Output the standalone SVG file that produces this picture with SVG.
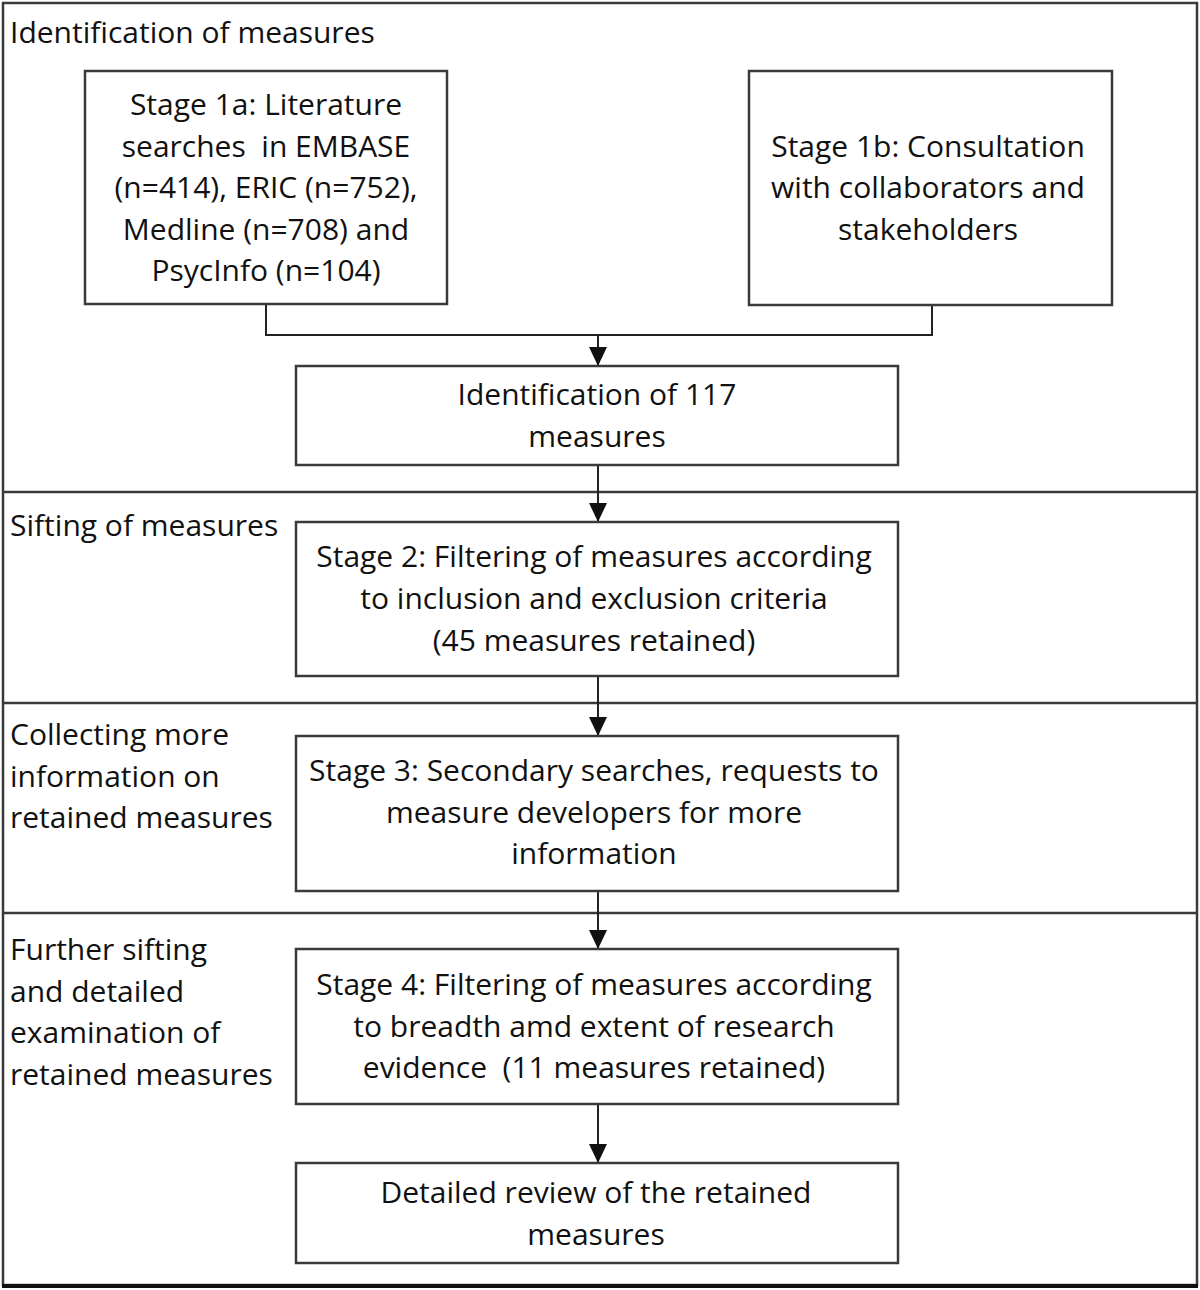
<svg xmlns="http://www.w3.org/2000/svg" width="1200" height="1290" viewBox="0 0 1200 1290">
<defs>
<style>
.box{fill:#fff;stroke:#3a3a3a;stroke-width:2.5}
.frame{fill:none;stroke:#3a3a3a;stroke-width:2.5}
.t{font-family:"Open Sans",Lato,sans-serif;font-size:30px;fill:#111;white-space:pre}
.c{text-anchor:middle}
.con{fill:none;stroke:#222;stroke-width:2}
</style>
<marker id="arrB" viewBox="0 0 19 18" refX="19" refY="9" markerWidth="19" markerHeight="18" markerUnits="userSpaceOnUse" orient="auto">
<path d="M0,0 L19,9 L0,18 z" fill="#111"/>
</marker>
</defs>
<rect width="1200" height="1290" fill="#fff"/>
<g id="frame">
<rect class="frame" x="3" y="3" width="1194" height="1282"/>
<line class="frame" x1="3" y1="492" x2="1197" y2="492"/>
<line class="frame" x1="3" y1="703" x2="1197" y2="703"/>
<line class="frame" x1="3" y1="913" x2="1197" y2="913"/>
<line x1="2" y1="1286" x2="1198" y2="1286" stroke="#111" stroke-width="4"/>
</g>
<g id="section-labels">
<text class="t" x="10" y="43">Identification of measures</text>
<text class="t" x="10" y="536">Sifting of measures</text>
<text class="t" x="10" y="745">Collecting more</text>
<text class="t" x="10" y="787">information on</text>
<text class="t" x="10" y="828">retained measures</text>
<text class="t" x="10" y="960">Further sifting</text>
<text class="t" x="10" y="1002">and detailed</text>
<text class="t" x="10" y="1043">examination of</text>
<text class="t" x="10" y="1085">retained measures</text>
</g>
<g id="connectors">
<polyline class="con" points="266,304 266,335 932,335 932,305"/>
<line class="con" x1="598" y1="335" x2="598" y2="366" marker-end="url(#arrB)"/>
<line class="con" x1="598" y1="465" x2="598" y2="522" marker-end="url(#arrB)"/>
<line class="con" x1="598" y1="676" x2="598" y2="736" marker-end="url(#arrB)"/>
<line class="con" x1="598" y1="891" x2="598" y2="949" marker-end="url(#arrB)"/>
<line class="con" x1="598" y1="1104" x2="598" y2="1163" marker-end="url(#arrB)"/>
</g>
<g id="stage1a">
<rect class="box" x="85" y="71" width="362" height="233"/>
<text class="t c" x="266" y="115">Stage 1a: Literature</text>
<text class="t c" x="266" y="157">searches  in EMBASE</text>
<text class="t c" x="266" y="198">(n=414), ERIC (n=752),</text>
<text class="t c" x="266" y="240">Medline (n=708) and</text>
<text class="t c" x="266" y="281">PsycInfo (n=104)</text>
</g>
<g id="stage1b">
<rect class="box" x="749" y="71" width="363" height="234"/>
<text class="t c" x="928" y="157">Stage 1b: Consultation</text>
<text class="t c" x="928" y="198">with collaborators and</text>
<text class="t c" x="928" y="240">stakeholders</text>
</g>
<g id="identification">
<rect class="box" x="296" y="366" width="602" height="99"/>
<text class="t c" x="597" y="405">Identification of 117</text>
<text class="t c" x="597" y="447">measures</text>
</g>
<g id="stage2">
<rect class="box" x="296" y="522" width="602" height="154"/>
<text class="t c" x="594" y="567">Stage 2: Filtering of measures according</text>
<text class="t c" x="594" y="609">to inclusion and exclusion criteria</text>
<text class="t c" x="594" y="651">(45 measures retained)</text>
</g>
<g id="stage3">
<rect class="box" x="296" y="736" width="602" height="155"/>
<text class="t c" x="594" y="781">Stage 3: Secondary searches, requests to</text>
<text class="t c" x="594" y="823">measure developers for more</text>
<text class="t c" x="594" y="864">information</text>
</g>
<g id="stage4">
<rect class="box" x="296" y="949" width="602" height="155"/>
<text class="t c" x="594" y="995">Stage 4: Filtering of measures according</text>
<text class="t c" x="594" y="1037">to breadth amd extent of research</text>
<text class="t c" x="594" y="1078">evidence  (11 measures retained)</text>
</g>
<g id="review">
<rect class="box" x="296" y="1163" width="602" height="100"/>
<text class="t c" x="596" y="1203">Detailed review of the retained</text>
<text class="t c" x="596" y="1245">measures</text>
</g>
</svg>
